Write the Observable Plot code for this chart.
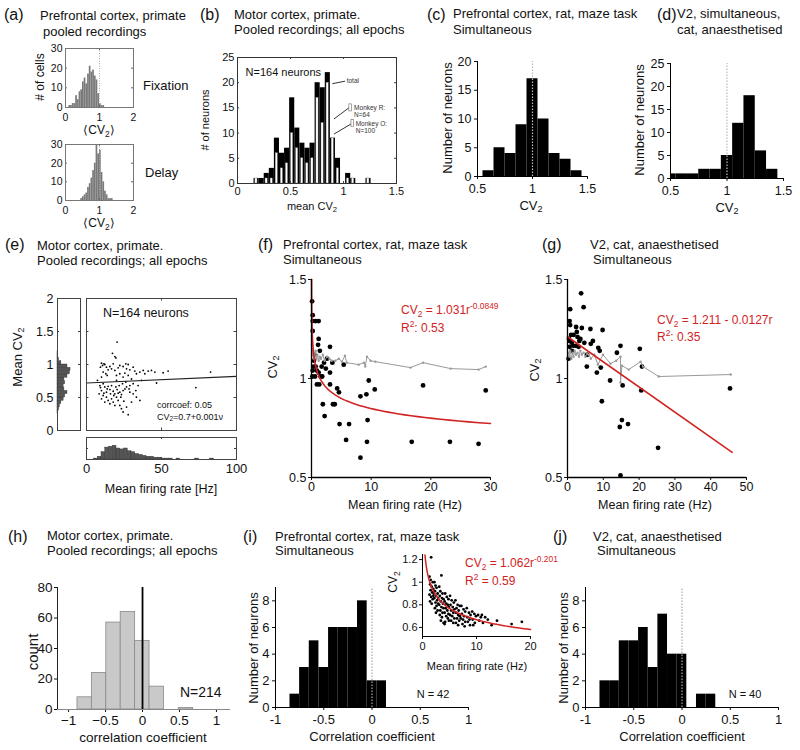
<!DOCTYPE html>
<html><head><meta charset="utf-8">
<script src="https://cdn.jsdelivr.net/npm/d3@7"></script>
<script src="https://cdn.jsdelivr.net/npm/@observablehq/plot@0.6"></script>
<style>
body{margin:0;background:#fff;}
#root{position:relative;width:800px;height:750px;overflow:hidden;font-family:"Liberation Sans",Arial,sans-serif;color:#111;background:#fff;}
.t{position:absolute;white-space:nowrap;line-height:1;}
.t sub{font-size:70%;vertical-align:-0.3em;line-height:0;}
.t sup{font-size:70%;vertical-align:0.55em;line-height:0;}
.red{color:#d22323;}
</style></head><body><div id="root"></div><script>
// ---------- DATA ----------
// (a) Prefrontal cortex, primate
const aFixBins   = [0.1,0.15,0.2,0.25,0.3,0.35,0.4,0.45,0.5,0.55,0.6,0.65,0.7,0.75,0.8,0.85,0.9,0.95,1.0,1.05,1.1];
const aFixCounts = [1,1,2,2,6,4,8,9,13,15,12,17,21,18,19,16,14,7,2,1,1];
const aDelBins   = [0.45,0.5,0.55,0.6,0.65,0.7,0.75,0.8,0.85,0.9,0.95,1.0,1.05,1.1,1.15,1.2,1.25,1.3,1.35];
const aDelCounts = [1,2,3,4,7,9,12,16,20,30,25,27,15,10,5,3,1,1,1];
const aBinWidth = 0.05;
// (b) Motor cortex, primate
const bCenters = [0.18,0.228,0.276,0.324,0.372,0.42,0.468,0.516,0.564,0.612,0.66,0.708,0.756,0.804,0.852,0.9,0.948,0.996,1.044,1.092,1.14,1.188,1.236];
const bTotal   = [1,1,2,3,9,6,7,17,11,8,7,8,20,19,22,9,5,0,2,1,0,0,1];
const bMonkeyO = [1,0,1,1,6,3,4,10,7,5,4,5,17,12,20,9,3,0,1,1,0,0,1];
const bBinWidth = 0.048;
// (c) Prefrontal cortex, rat
const cLo     = [0.55,0.65,0.75,0.85,0.95,1.05,1.15,1.25,1.35];
const cCounts = [1,5,4,9,17,10,4,3,1];
// (d) V2 cat
const dLo     = [0.45,0.55,0.65,0.75,0.85,0.95,1.05,1.15,1.25,1.35];
const dCounts = [1,1,1,2,2,5,12,18,6,2];
const cdWidth = 0.1;
// (e) Motor cortex scatter (Hz, CV2)
const ePoints = [[20.4,1.34],[17.3,1.17],[18.9,1.12],[19.6,1.10],[10,1.02],[11.6,1.01],[10.7,0.985],[12.2,1.0],[9.3,0.96],[13.3,0.96],[15.6,0.97],[17.8,1.01],[14.4,0.92],[16.7,0.935],[18.9,0.91],[21.1,0.95],[22.2,0.985],[24.4,0.97],[26.2,1.01],[27.8,1.0],[26.7,0.935],[28.9,0.92],[31.1,0.96],[32.2,0.90],[33.3,0.86],[35.6,0.885],[37.8,0.91],[38.9,0.86],[41.1,0.90],[43.3,0.91],[45.6,0.885],[51.1,0.875],[54.4,0.90],[82.7,0.885],[11.1,0.885],[12.9,0.86],[13.8,0.835],[10,0.81],[20,0.835],[22.2,0.86],[24.4,0.81],[25.6,0.87],[27.8,0.835],[30,0.78],[20,0.76],
 [8.9,0.68],[11.1,0.71],[12.2,0.66],[14.4,0.67],[16.7,0.68],[10,0.605],[13.3,0.58],[15.6,0.62],[17.8,0.595],[18.9,0.555],[21.1,0.565],[22.2,0.58],[23.3,0.545],[24.4,0.605],[25.6,0.63],[26.7,0.66],[28.9,0.68],[31.1,0.71],[11.1,0.53],[13.3,0.505],[14.4,0.455],[16.7,0.48],[17.8,0.43],[20,0.505],[21.1,0.455],[22.2,0.38],[23.3,0.33],[24.4,0.28],[26.7,0.355],[27.8,0.24],[18.9,0.38],[15.6,0.405],[12.2,0.43],[10,0.48],[31.1,0.555],[33.3,0.505],[35.6,0.455],[30,0.43],[28.9,0.58],[9.3,0.65],[8.4,0.555],[19.6,0.66],[21.8,0.68],[24,0.71],[26.2,0.735],[28.4,0.63],[20.4,0.62],[22.9,0.505],[24.9,0.445],[18.2,0.53],[16,0.555],[13.8,0.63],[11.6,0.565],[32.9,0.605],[34.4,0.68],[36.7,0.76],[46.7,0.72],[72.9,0.65],[7.3,0.76]];
const eFitLine = [[0,0.72],[100,0.82]];
const eCvLo    = [0.25,0.3,0.35,0.4,0.45,0.5,0.55,0.6,0.65,0.7,0.75,0.8,0.85,0.9,0.95,1.0,1.05,1.1,1.15];
const eCvCount = [1,2,3,5,8,10,13,9,8,10,9,13,16,17,13,5,2,1,1];
const eRateLo    = [5,7.5,10,12.5,15,17.5,20,22.5,25,27.5,30,32.5,35,37.5,40,42.5,45,47.5,50,52.5,55,60,72.5,82.5];
const eRateCount = [1,3,8,13,14,15,12,11,12,9,8,6,5,4,3,3,2,2,1,1,1,1,1,1];
// (f) Prefrontal rat scatter
const fPoints = [[0.1,1.39],[0.2,1.32],[0.2,1.29],[0.2,1.24],[0.7,1.29],[1.2,1.29],[1.2,1.2],[1.1,1.17],[3.1,1.16],[0.4,1.09],[0.2,1.04],[0.7,1.06],[0.9,1.04],[1.2,1.03],[1.7,1.06],[1.5,1.01],[0.9,0.97],[1.3,0.97],[1.8,1.01],[0.6,1.01],[2.1,1.08],[2.6,1.1],[3.5,1.08],[3.1,1.03],[3.1,0.97],[1.9,0.87],[2.2,0.81],[3.6,0.87],[3.9,0.87],[4.3,0.95],[4.6,0.93],[4.7,0.77],[6.3,0.77],[5.4,1.07],[5.8,0.69],[8.2,0.91],[9.2,0.92],[9.6,0.99],[9.4,0.79],[9.3,0.68],[8.2,0.6],[10.6,0.945],[18.7,0.965],[16.8,0.68],[23.2,0.68],[28,0.67],[29.2,0.94],[0.3,1.06],[0.5,1.12],[1.4,1.14],[2.4,1.05],[0.15,1.01]];
const fMean = [[0.05,1.17],[0.15,1.12],[0.25,1.15],[0.35,1.10],[0.45,1.13],[0.55,1.11],[0.7,1.14],[0.85,1.10],[1.0,1.12],[1.2,1.09],[1.4,1.11],[1.6,1.10],[1.9,1.12],[2.2,1.09],[2.6,1.11],[3.0,1.10],[3.4,1.09],[4.0,1.09],[4.6,1.10],[5.1,1.085],[5.6,1.115],[5.9,1.08],[7.9,1.07],[8.8,1.08],[9.0,1.06],[9.3,1.11],[9.9,1.09],[10.7,1.085],[16.6,1.055],[18.7,1.08],[23.3,1.05],[28,1.045],[29.2,1.06]];
const fFit = {a: 1.031, b: -0.0849, rMin: 0.012, rMax: 30};
// (g) V2 cat scatter
const gPoints = [[3.8,1.43],[0.75,1.35],[4.5,1.36],[0.6,1.29],[0.75,1.27],[2.4,1.26],[4,1.255],[6.4,1.25],[2.6,1.235],[2.8,1.21],[3.6,1.2],[1.7,1.22],[4.7,1.18],[1.2,1.18],[1.7,1.165],[6.5,1.175],[7.1,1.19],[9.8,1.245],[0.6,1.19],[0.6,1.16],[1.2,1.14],[2.4,1.165],[0.3,1.1],[3.1,1.16],[8.6,1.155],[9,1.14],[14.8,1.165],[13.8,1.13],[20.2,1.15],[5.4,1.06],[8.2,1.03],[9.3,1.055],[11.9,0.99],[15.4,0.965],[20.6,0.94],[20.8,1.06],[9.6,0.885],[15.2,0.79],[14.6,0.755],[16.9,0.77],[25.3,0.65],[14.8,0.51],[45.4,0.95],[0.4,1.2],[1.0,1.22],[3.3,1.19],[5.5,1.12]];
const gMean = [[0.2,1.13],[0.5,1.11],[0.8,1.14],[1.1,1.1],[1.4,1.13],[1.7,1.11],[2.0,1.14],[2.4,1.12],[2.8,1.13],[3.2,1.11],[3.6,1.14],[4.0,1.12],[4.5,1.13],[5.0,1.11],[5.5,1.125],[6.0,1.12],[6.5,1.1],[7.5,1.12],[8.5,1.07],[9.9,1.12],[12,1.075],[13.6,1.09],[14.8,1.11],[14.8,0.98],[15.2,1.065],[17.1,1.045],[20.4,1.085],[21.1,1.06],[25.5,1.01],[45.6,1.02]];
const gFitLine = [[0,1.211],[46,0.627]];
// (h) Motor cortex correlation
const hLo     = [-0.88,-0.685,-0.49,-0.295,-0.1,0.095,0.49];
const hHi     = [-0.685,-0.49,-0.295,-0.1,0.095,0.29,0.685];
const hCounts = [8,24,57,64,45,15,1];
// (i) Prefrontal rat correlation
const iLo     = [-0.85,-0.75,-0.65,-0.55,-0.45,-0.35,-0.25,-0.15,-0.05,0.05];
const iCounts = [1,3,5,3,6,6,6,8,2,2];
const iInset = [[1.6,1.22],[1.3,1.05],[1.5,1.02],[1.4,0.98],[1.7,0.96],[1.9,1.0],[1.5,0.93],[1.8,0.91],[1.3,0.89],[2.0,0.94],[1.6,0.87],[1.9,0.85],[1.4,0.83],[2.0,0.88],[1.7,0.81],
 [2.2,1.0],[2.4,0.97],[2.6,0.95],[2.3,0.92],[2.8,0.9],[2.5,0.88],[2.2,0.86],[2.9,0.86],[2.7,0.84],[2.4,0.82],[2.9,0.81],[2.6,0.79],[2.3,0.77],[2.8,0.75],[2.1,0.9],[2.5,0.73],
 [3.1,0.96],[3.5,1.06],[3.3,0.92],[3.7,0.9],[3.2,0.88],[3.6,0.86],[3.9,0.85],[3.4,0.83],[3.8,0.81],[3.1,0.8],[3.5,0.78],[3.9,0.77],[3.3,0.75],[3.7,0.73],[3.2,0.71],[3.6,0.69],[3.4,0.66],[3.9,0.64],
 [4.2,0.9],[4.5,0.87],[4.8,0.85],[4.1,0.83],[4.4,0.81],[4.7,0.8],[4.9,0.78],[4.3,0.77],[4.6,0.75],[4.1,0.73],[4.8,0.72],[4.4,0.7],[4.7,0.68],[4.2,0.65],[4.1,0.63],[4.9,0.66],
 [5.1,0.88],[5.4,0.84],[5.8,0.82],[5.2,0.8],[5.6,0.78],[5.9,0.76],[5.3,0.75],[5.7,0.73],[5.1,0.71],[5.5,0.7],[5.9,0.68],[5.3,0.66],[5.7,0.64],
 [6.1,0.84],[6.5,0.8],[6.9,0.79],[6.3,0.77],[6.7,0.75],[6.2,0.73],[6.6,0.71],[6.9,0.7],[6.4,0.68],[6.8,0.66],[6.2,0.64],[6.6,0.62],
 [7.2,0.79],[7.6,0.76],[7.9,0.74],[7.3,0.72],[7.7,0.7],[7.1,0.68],[7.5,0.67],[7.9,0.65],[7.4,0.63],[7.8,0.61],
 [8.2,0.77],[8.6,0.73],[8.9,0.71],[8.3,0.69],[8.7,0.67],[8.4,0.65],[8.8,0.62],
 [9.2,0.74],[9.6,0.72],[9.9,0.7],[9.3,0.67],[9.7,0.64],[9.4,0.62],
 [10.3,0.71],[10.8,0.69],[11,0.71],[11.6,0.69],[10.5,0.66],[11.2,0.64],[12.1,0.67],[13.8,0.66],[16.5,0.63],[18.4,0.65],[12.8,0.62]];
const iFit = {a: 1.062, b: -0.201, rMin: 0.46, rMax: 20};
// (j) V2 cat correlation
const jLo     = [-0.85,-0.75,-0.65,-0.55,-0.45,-0.35,-0.25,-0.15,-0.05,0.05,0.15,0.25];
const jCounts = [2,2,5,5,6,3,7,4,4,0,1,1];
const ijWidth = 0.1;

// ---------- HELPERS ----------
const FONT = '"Liberation Sans", Arial, sans-serif';
const root = document.getElementById("root");
const fmt = d => (d < 0 ? "-" : "") + String(Math.abs(d));
const fmtMinus = d => (d < 0 ? "\u2212" : "") + String(Math.abs(d));
function place(box, opts, fs = 12) {
  const svg = Plot.plot({
    width: box.x1 - box.x0, height: box.y1 - box.y0, margin: 0, ...opts,
    style: {background: "none", overflow: "visible", fontFamily: FONT, fontSize: fs + "px", color: "#111"}
  });
  svg.style.position = "absolute"; svg.style.left = box.x0 + "px"; svg.style.top = box.y0 + "px";
  root.appendChild(svg);
}
function label(x, y, html, o = {}) {
  const d = document.createElement("div");
  d.className = "t" + (o.cls ? " " + o.cls : "");
  d.innerHTML = html;
  d.style.fontSize = (o.size ?? 13) + "px";
  d.style.left = x + "px"; d.style.top = y + "px";
  const ax = o.rotate || o.anchor === "middle" ? "-50%" : o.anchor === "end" ? "-100%" : "0";
  d.style.transform = `translate(${ax}, -50%)` + (o.rotate ? " rotate(-90deg)" : "");
  root.appendChild(d);
}
function frameTicks(W, H, xt, yt, len = 2.5, stroke = "#444") {
  const m = [];
  if (xt) { m.push(Plot.tickX(xt, {x: d => d, insetTop: H - len, stroke})); m.push(Plot.tickX(xt, {x: d => d, insetBottom: H - len, stroke})); }
  if (yt) { m.push(Plot.tickY(yt, {y: d => d, insetRight: W - len, stroke})); m.push(Plot.tickY(yt, {y: d => d, insetLeft: W - len, stroke})); }
  return m;
}
function powerCurve(f, n = 120) {
  const lr = d3.range(n + 1).map(i => Math.log(f.rMin) + (Math.log(f.rMax) - Math.log(f.rMin)) * i / n);
  return lr.map(l => [Math.exp(l), f.a * Math.pow(Math.exp(l), f.b)]);
}
const CV = "CV<sub>2</sub>";

// ---------- (a) ----------
const aFix = aFixBins.map((x, i) => ({x, n: aFixCounts[i]}));
const aDel = aDelBins.map((x, i) => ({x, n: aDelCounts[i]}));
for (const [data, box] of [[aFix, {x0: 65, x1: 133, y0: 48, y1: 107}], [aDel, {x0: 65, x1: 133, y0: 144, y1: 200}]]) {
  const W = box.x1 - box.x0, H = box.y1 - box.y0;
  place(box, {
    x: {domain: [0, 2], ticks: [0, 1, 2], tickFormat: fmt, tickSize: 0, tickPadding: 6, label: null},
    y: {domain: [0, 30], ticks: [0, 10, 20, 30], tickFormat: fmt, tickSize: 0, tickPadding: 3, label: null},
    marks: [
      Plot.rectY(data, {x1: "x", x2: d => d.x + aBinWidth, y: "n", fill: "#7a7a7a"}),
      Plot.ruleX([1], {stroke: "#aaa", strokeDasharray: "1,1.5"}),
      ...frameTicks(W, H, [1], [10, 20], 2, "#666"),
      Plot.frame({stroke: "#777"})
    ]
  }, 10.5);
}
label(4, 15, "(a)", {size: 16});
label(40, 15, "Prefrontal cortex, primate");
label(43, 31, "pooled recordings");
label(40, 77, "# of cells", {rotate: true, size: 12});
label(99, 130, "⟨" + CV + "⟩", {anchor: "middle", size: 12});
label(99, 223, "⟨" + CV + "⟩", {anchor: "middle", size: 12});
label(143, 85, "Fixation");
label(145, 172, "Delay");

// ---------- (b) ----------
{
  const box = {x0: 237, x1: 396, y0: 57, y1: 183};
  const W = box.x1 - box.x0, H = box.y1 - box.y0;
  const data = bCenters.map((c, i) => ({c, t: bTotal[i], o: bMonkeyO[i]}));
  place(box, {
    x: {domain: [0, 1.5], ticks: [0, 0.5, 1, 1.5], tickFormat: fmt, tickSize: 0, tickPadding: 4, label: null},
    y: {domain: [0, 25], ticks: [0, 5, 10, 15, 20, 25], tickFormat: fmt, tickSize: 0, tickPadding: 3, label: null},
    marks: [
      Plot.rectY(data, {x1: d => d.c - bBinWidth / 2, x2: d => d.c + bBinWidth / 2, y: "t", fill: "black"}),
      Plot.rectY(data.filter(d => d.o > 0), {x1: d => d.c - bBinWidth / 2, x2: d => d.c + bBinWidth / 2, y: "o", fill: "white", stroke: "#777", strokeWidth: 0.4, insetLeft: 1.3, insetRight: 1.6}),
      Plot.link([{x1: 0.894, y1: 19.8, x2: 1.015, y2: 20.3}, {x1: 0.91, y1: 12.8, x2: 1.05, y2: 15}, {x1: 0.91, y1: 9.8, x2: 1.07, y2: 11.8}],
        {x1: "x1", y1: "y1", x2: "x2", y2: "y2", stroke: "black", strokeWidth: 0.8}),
      Plot.rect([{x1: 1.055, x2: 1.08, y1: 14.3, y2: 15.7}, {x1: 1.075, x2: 1.1, y1: 11.2, y2: 12.6}], {x1: "x1", x2: "x2", y1: "y1", y2: "y2", fill: "white", stroke: "#666", strokeWidth: 0.6}),
      Plot.text([{x: 1.03, y: 20.3, s: "total"}, {x: 1.1, y: 15, s: "Monkey R:"}, {x: 1.1, y: 13.7, s: "N=64"}, {x: 1.115, y: 11.9, s: "Monkey O:"}, {x: 1.115, y: 10.5, s: "N=100"}],
        {x: "x", y: "y", text: "s", textAnchor: "start", fontSize: 6.5, fill: "#333"}),
      Plot.text([{x: 0.076, y: 22, s: "N=164 neurons"}], {x: "x", y: "y", text: "s", textAnchor: "start", fontSize: 11}),
      ...frameTicks(W, H, [0.5, 1], [5, 10, 15, 20], 2, "#444"),
      Plot.frame({stroke: "#333"})
    ]
  }, 11);
}
label(200, 15, "(b)", {size: 16});
label(234, 14, "Motor cortex, primate.");
label(234, 29, "Pooled recordings; all epochs");
label(205, 120, "# of neurons", {rotate: true, size: 11});
label(312, 206, "mean " + CV, {anchor: "middle", size: 11});

// ---------- (c) & (d) ----------
function histCD(box, lo, counts, ymax, yt) {
  place(box, {
    x: {domain: [0.5, 1.5], ticks: [0.5, 1, 1.5], tickFormat: fmt, tickSize: 3, tickPadding: 4.5, label: null},
    y: {domain: [0, ymax], ticks: yt, tickFormat: fmt, tickSize: 3, tickPadding: 3, label: null},
    marks: [
      Plot.rectY(lo.map((x, i) => ({x, n: counts[i]})), {x1: "x", x2: d => d.x + cdWidth, y: "n", fill: "black", clip: true}),
      Plot.ruleX([1], {y1: 0, y2: ymax, stroke: "#bbb", strokeWidth: 1.2, strokeDasharray: "1.5,1.5"}),
      Plot.ruleX([0.5], {stroke: "black"}),
      Plot.ruleY([0], {stroke: "black"})
    ]
  }, 12.5);
}
histCD({x0: 477, x1: 587, y0: 61, y1: 176}, cLo, cCounts, 20, [0, 5, 10, 15, 20]);
histCD({x0: 670, x1: 783, y0: 63, y1: 178}, dLo, dCounts, 25, [0, 5, 10, 15, 20, 25]);
label(427, 15, "(c)", {size: 16});
label(453, 13, "Prefrontal cortex, rat, maze task");
label(453, 29, "Simultaneous");
label(447, 118, "Number of neurons", {rotate: true});
label(531, 205, CV, {anchor: "middle"});
label(657, 15, "(d)", {size: 16});
label(677, 13, "V2, simultaneous,");
label(677, 29, "cat, anaesthetised");
label(639, 120, "Number of neurons", {rotate: true});
label(727, 207, CV, {anchor: "middle"});

// ---------- (e) ----------
{
  const bl = {x0: 57, x1: 80, y0: 298, y1: 430};
  place(bl, {
    x: {domain: [0, 30], axis: null},
    y: {domain: [0, 2], ticks: [0, 0.5, 1, 1.5, 2], tickFormat: fmt, tickSize: 0, tickPadding: 4, label: null},
    marks: [
      Plot.rectX(eCvLo.map((v, i) => ({v, n: eCvCount[i]})), {y1: "v", y2: d => d.v + 0.05, x: "n", fill: "#555", stroke: "#333", strokeWidth: 0.4}),
      ...frameTicks(bl.x1 - bl.x0, bl.y1 - bl.y0, null, [0.5, 1, 1.5], 2, "#444"),
      Plot.frame({stroke: "#444"})
    ]
  }, 12.5);
  const bm = {x0: 86, x1: 236, y0: 298, y1: 430};
  place(bm, {
    x: {domain: [0, 100], axis: null},
    y: {domain: [0, 2], axis: null},
    marks: [
      Plot.dot(ePoints, {x: d => d[0], y: d => d[1], r: 0.9, fill: "black", stroke: null}),
      Plot.line(eFitLine, {x: d => d[0], y: d => d[1], stroke: "#222", strokeWidth: 1.2}),
      ...frameTicks(bm.x1 - bm.x0, bm.y1 - bm.y0, [50], [0.5, 1, 1.5], 2.5, "#444"),
      Plot.frame({stroke: "#444"})
    ]
  });
  const bb = {x0: 86, x1: 236, y0: 437, y1: 459};
  place(bb, {
    x: {domain: [0, 100], ticks: [0, 50, 100], tickFormat: fmt, tickSize: 0, tickPadding: 4, label: null},
    y: {domain: [0, 24], axis: null},
    marks: [
      Plot.rectY(eRateLo.map((v, i) => ({v, n: eRateCount[i]})), {x1: "v", x2: d => d.v + 2.5, y: "n", fill: "#555", stroke: "#333", strokeWidth: 0.4}),
      ...frameTicks(bb.x1 - bb.x0, bb.y1 - bb.y0, [50], [12], 2, "#444"),
      Plot.frame({stroke: "#444"})
    ]
  }, 13);
}
label(5, 245, "(e)", {size: 16});
label(37, 245, "Motor cortex, primate.");
label(37, 260, "Pooled recordings; all epochs");
label(17, 357, "Mean " + CV, {rotate: true, size: 13});
label(161, 489, "Mean firing rate [Hz]", {anchor: "middle", size: 12.5});
label(103, 313, "N=164 neurons", {size: 12.5});
label(157, 405, "corrcoef: 0.05", {size: 9});
label(157, 417, CV + "=0.7+0.001ν", {size: 9});

// ---------- (f) & (g) ----------
function scatterFG(box, xmax, xt, pts, mean, fitMarks) {
  place(box, {
    x: {domain: [0, xmax], ticks: xt, tickFormat: fmt, tickSize: 3, tickPadding: 2, label: null},
    y: {domain: [0.5, 1.5], ticks: [0.5, 1, 1.5], tickFormat: fmt, tickSize: 3, tickPadding: 2, label: null},
    marks: [
      Plot.dot(pts, {x: d => d[0], y: d => d[1], r: 2.4, fill: "black", stroke: null}),
      Plot.line(mean, {x: d => d[0], y: d => d[1], stroke: "#999", strokeWidth: 1}),
      Plot.dot(mean, {x: d => d[0], y: d => d[1], r: 1.2, fill: "#999", stroke: null}),
      ...fitMarks,
      Plot.ruleX([0], {stroke: "black", strokeWidth: 1.3}),
      Plot.ruleY([0.5], {stroke: "black", strokeWidth: 1.3})
    ]
  }, 12.5);
}
scatterFG({x0: 311, x1: 490, y0: 279, y1: 477}, 30, [0, 10, 20, 30], fPoints, fMean,
  [Plot.line(powerCurve(fFit), {x: d => d[0], y: d => d[1], stroke: "#d22323", strokeWidth: 1.6})]);
scatterFG({x0: 567, x1: 746, y0: 279, y1: 477}, 50, [0, 10, 20, 30, 40, 50], gPoints, gMean,
  [Plot.line(gFitLine, {x: d => d[0], y: d => d[1], stroke: "#d22323", strokeWidth: 1.6})]);
label(258, 245, "(f)", {size: 16});
label(283, 244, "Prefrontal cortex, rat, maze task");
label(283, 259, "Simultaneous");
label(272, 367, CV, {rotate: true});
label(405, 505, "Mean firing rate (Hz)", {anchor: "middle", size: 12.5});
label(401, 310, "CV<sub>2</sub> = 1.031r<sup>-0.0849</sup>", {size: 12, cls: "red"});
label(401, 328, "R<sup>2</sup>: 0.53", {size: 12, cls: "red"});
label(542, 245, "(g)", {size: 16});
label(590, 244, "V2, cat, anaesthetised");
label(593, 259, "Simultaneous");
label(534, 370, CV, {rotate: true});
label(655, 505, "Mean firing rate (Hz)", {anchor: "middle", size: 12.5});
label(657, 320, "CV<sub>2</sub> = 1.211 - 0.0127r", {size: 12, cls: "red"});
label(657, 337, "R<sup>2</sup>: 0.35", {size: 12, cls: "red"});

// ---------- (h) ----------
place({x0: 57, x1: 230, y0: 587, y1: 709}, {
  x: {domain: [-1.15, 1.19], ticks: [-1, -0.5, 0, 0.5, 1], tickFormat: fmtMinus, tickSize: 3, tickPadding: 3, label: null},
  y: {domain: [0, 80], ticks: [0, 20, 40, 60, 80], tickFormat: fmt, tickSize: 3, tickPadding: 2, label: null},
  marks: [
    Plot.rectY(hLo.map((x, i) => ({x1: x, x2: hHi[i], n: hCounts[i]})), {x1: "x1", x2: "x2", y: "n", fill: "#c9c9c9", stroke: "#8a8a8a", strokeWidth: 0.8}),
    Plot.ruleY([0], {stroke: "#888"}),
    Plot.ruleX([-1.15], {stroke: "#222"}),
    Plot.ruleX([0], {y1: 0, y2: 80, stroke: "black", strokeWidth: 1.8})
  ]
}, 13.5);
label(8, 537, "(h)", {size: 16});
label(47, 535, "Motor cortex, primate.");
label(47, 550, "Pooled recordings; all epochs");
label(32, 652, "count", {rotate: true, size: 15});
label(143, 738, "correlation coefficient", {anchor: "middle", size: 13.5});
label(180, 692, "N=214", {size: 14});

// ---------- (i) & (j) ----------
function histIJ(box, lo, counts) {
  place(box, {
    x: {domain: [-1, 1], ticks: [-1, -0.5, 0, 0.5, 1], tickFormat: fmt, tickSize: 3, tickPadding: 4, label: null},
    y: {domain: [0, 9], ticks: [0, 2, 4, 6, 8], tickFormat: fmt, tickSize: 3, tickPadding: 3, label: null},
    marks: [
      Plot.rectY(lo.map((x, i) => ({x, n: counts[i]})).filter(d => d.n > 0), {x1: "x", x2: d => d.x + ijWidth, y: "n", fill: "black"}),
      Plot.ruleX([0], {y1: 0, y2: 9, stroke: "#aaa", strokeWidth: 1.2, strokeDasharray: "1.5,1.5"}),
      Plot.ruleX([-1], {stroke: "black"}),
      Plot.ruleY([0], {stroke: "black"})
    ]
  }, 13);
}
histIJ({x0: 275, x1: 468, y0: 587, y1: 707}, iLo, iCounts);
histIJ({x0: 585, x1: 778, y0: 587, y1: 707}, jLo, jCounts);
// inset of (i)
place({x0: 422, x1: 530, y0: 554, y1: 636}, {
  x: {domain: [0, 20], ticks: [0, 10, 20], tickFormat: fmt, tickSize: 3, tickPadding: 3, label: null},
  y: {domain: [0.52, 1.245], ticks: [0.6, 0.8, 1, 1.2], tickFormat: fmt, tickSize: 3, tickPadding: 2, label: null},
  marks: [
    Plot.dot(iInset, {x: d => d[0], y: d => d[1], r: 1.4, fill: "black", stroke: null}),
    Plot.line(powerCurve(iFit), {x: d => d[0], y: d => d[1], stroke: "#d22323", strokeWidth: 1.5}),
    Plot.ruleX([0], {stroke: "black"}),
    Plot.ruleY([0.52], {stroke: "black"})
  ]
}, 11);
label(243, 537, "(i)", {size: 16});
label(275, 536, "Prefrontal cortex, rat, maze task");
label(275, 550, "Simultaneous");
label(253, 648, "Number of neurons", {rotate: true});
label(372, 736, "Correlation coefficient", {anchor: "middle"});
label(433, 694, "N = 42", {anchor: "middle", size: 11});
label(393, 582, CV, {rotate: true, size: 12});
label(477, 666, "Mean firing rate (Hz)", {anchor: "middle", size: 11});
label(465, 563, "CV<sub>2</sub> = 1.062r<sup>-0.201</sup>", {size: 12, cls: "red"});
label(465, 581, "R<sup>2</sup> = 0.59", {size: 12, cls: "red"});
label(553, 537, "(j)", {size: 16});
label(593, 536, "V2, cat, anaesthetised");
label(597, 550, "Simultaneous");
label(563, 648, "Number of neurons", {rotate: true});
label(682, 736, "Correlation coefficient", {anchor: "middle"});
label(745, 694, "N = 40", {anchor: "middle", size: 11});
</script></body></html>
